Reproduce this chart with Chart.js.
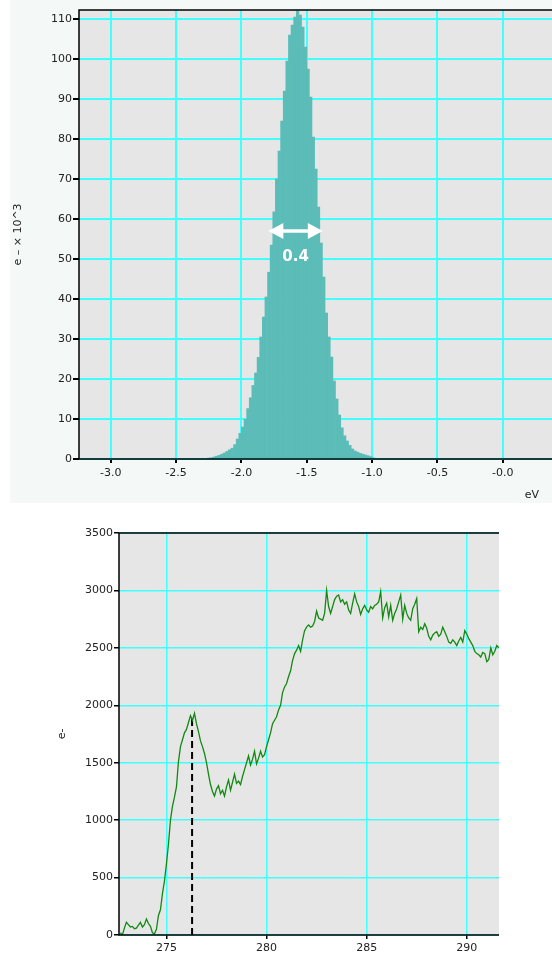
<!DOCTYPE html>
<html>
<head>
<meta charset="utf-8">
<script src="https://cdn.jsdelivr.net/npm/chart.js@4.4.1/dist/chart.umd.min.js"></script>
<style>
  html, body { margin: 0; padding: 0; background: #fff; overflow: hidden; }
  #panelTop { position: absolute; left: 10px; top: 0; width: 542px; height: 503px; background: #F4F8F6; }
  #histChart { position: absolute; left: 0; top: 0; }
  #spectrumChart { position: absolute; left: 0; top: 503px; }
</style>
</head>
<body>
<div id="panelTop"></div>
<canvas id="histChart" width="552" height="503"></canvas>
<canvas id="spectrumChart" width="552" height="450"></canvas>
<script>
// top: energy distribution histogram (e- x 10^3 per bin)
var binCenters = [
  -2.25, -2.23, -2.21, -2.19, -2.17, -2.15, -2.13, -2.11, -2.09, -2.07,
  -2.05, -2.03, -2.01, -1.99, -1.97, -1.95, -1.93, -1.91, -1.89, -1.87,
  -1.85, -1.83, -1.81, -1.79, -1.77, -1.75, -1.73, -1.71, -1.69, -1.67,
  -1.65, -1.63, -1.61, -1.59, -1.57, -1.55, -1.53, -1.51, -1.49, -1.47,
  -1.45, -1.43, -1.41, -1.39, -1.37, -1.35, -1.33, -1.31, -1.29, -1.27,
  -1.25, -1.23, -1.21, -1.19, -1.17, -1.15, -1.13, -1.11, -1.09, -1.07,
  -1.05, -1.03, -1.01, -0.99
];
var binCounts = [
  0.2, 0.3, 0.5, 0.7, 0.9, 1.2, 1.5, 1.9, 2.3, 2.7,
  3.6, 5.0, 6.4, 8.0, 9.9, 12.6, 15.3, 18.4, 21.5, 25.4,
  30.5, 35.5, 40.5, 46.7, 53.5, 61.8, 70, 77, 84.5, 92,
  99.5, 106, 108.5, 110.5, 112, 111, 108, 103, 97.5, 90.5,
  80.5, 72.5, 63, 54, 45.5, 36.5, 30.5, 25.5, 19.5, 15,
  11, 7.8, 5.8, 4.5, 3.4, 2.5, 2.0, 1.7, 1.4, 1.2,
  1.0, 0.8, 0.6, 0.3
];
var histTicksX = [-3.0, -2.5, -2.0, -1.5, -1.0, -0.5, 0.0];
var histTickLabelsX = ['-3.0', '-2.5', '-2.0', '-1.5', '-1.0', '-0.5', '-0.0'];
var histTicksY = [0, 10, 20, 30, 40, 50, 60, 70, 80, 90, 100, 110];
// width marker on the peak
var widthFrom = -1.794;
var widthTo = -1.377;
var widthLevel = 57;
var widthLabel = '0.4';

// bottom: absorption spectrum (e-)
var energies = [
  272.7, 272.8, 272.9,
  273.0, 273.1, 273.2, 273.3, 273.4, 273.5, 273.6, 273.7, 273.8, 273.9,
  274.0, 274.1, 274.2, 274.3, 274.4, 274.5, 274.6, 274.7, 274.8, 274.9,
  275.0, 275.1, 275.2, 275.3, 275.4, 275.5, 275.6, 275.7, 275.8, 275.9,
  276.0, 276.1, 276.2, 276.3, 276.4, 276.5, 276.6, 276.7, 276.8, 276.9,
  277.0, 277.1, 277.2, 277.3, 277.4, 277.5, 277.6, 277.7, 277.8, 277.9,
  278.0, 278.1, 278.2, 278.3, 278.4, 278.5, 278.6, 278.7, 278.8, 278.9,
  279.0, 279.1, 279.2, 279.3, 279.4, 279.5, 279.6, 279.7, 279.8, 279.9,
  280.0, 280.1, 280.2, 280.3, 280.4, 280.5, 280.6, 280.7, 280.8, 280.9,
  281.0, 281.1, 281.2, 281.3, 281.4, 281.5, 281.6, 281.7, 281.8, 281.9,
  282.0, 282.1, 282.2, 282.3, 282.4, 282.5, 282.6, 282.7, 282.8, 282.9,
  283.0, 283.1, 283.2, 283.3, 283.4, 283.5, 283.6, 283.7, 283.8, 283.9,
  284.0, 284.1, 284.2, 284.3, 284.4, 284.5, 284.6, 284.7, 284.8, 284.9,
  285.0, 285.1, 285.2, 285.3, 285.4, 285.5, 285.6, 285.7, 285.8, 285.9,
  286.0, 286.1, 286.2, 286.3, 286.4, 286.5, 286.6, 286.7, 286.8, 286.9,
  287.0, 287.1, 287.2, 287.3, 287.4, 287.5, 287.6, 287.7, 287.8, 287.9,
  288.0, 288.1, 288.2, 288.3, 288.4, 288.5, 288.6, 288.7, 288.8, 288.9,
  289.0, 289.1, 289.2, 289.3, 289.4, 289.5, 289.6, 289.7, 289.8, 289.9,
  290.0, 290.1, 290.2, 290.3, 290.4, 290.5, 290.6, 290.7, 290.8, 290.9,
  291.0, 291.1, 291.2, 291.3, 291.4, 291.5, 291.6
];
var electrons = [
  20, 0, 60,
  110, 90, 70, 75, 55, 60, 85, 110, 70, 90,
  140, 100, 75, 20, 10, 50, 170, 220, 360, 470,
  620, 790, 1000, 1120, 1200, 1290, 1510, 1640, 1700, 1760,
  1790, 1850, 1910, 1870, 1930, 1840, 1770, 1690, 1640, 1580,
  1500, 1400, 1310, 1250, 1210, 1270, 1300, 1230, 1260, 1210,
  1290, 1350, 1260, 1330, 1400, 1320, 1340, 1310, 1380, 1440,
  1500, 1560, 1480, 1530, 1600, 1490, 1540, 1600, 1550, 1570,
  1640, 1700, 1760, 1840, 1870, 1900, 1960, 2000, 2110, 2160,
  2190, 2250, 2300, 2390, 2450, 2480, 2520, 2470, 2570, 2650,
  2680, 2700, 2680, 2690, 2730, 2820, 2760, 2750, 2740, 2800,
  3000, 2860, 2800, 2860, 2920, 2950, 2960, 2900, 2920, 2880,
  2900, 2830, 2800, 2890, 2970, 2900, 2860, 2790, 2840, 2870,
  2830, 2810, 2860, 2840, 2870, 2880, 2900, 2990, 2760, 2850,
  2890, 2770, 2870, 2740, 2800, 2840, 2900, 2960, 2750, 2870,
  2800, 2760, 2740, 2840, 2880, 2930, 2640, 2680, 2660, 2710,
  2670, 2600, 2570, 2610, 2630, 2640, 2600, 2620, 2680, 2640,
  2600, 2550, 2540, 2570, 2550, 2520, 2560, 2590, 2550, 2650,
  2620, 2580, 2550, 2520, 2470, 2450, 2440, 2420, 2460, 2450,
  2380, 2400, 2500, 2440, 2470, 2520, 2500
];
var spectrumTicksX = [275, 280, 285, 290];
var spectrumTicksY = [0, 500, 1000, 1500, 2000, 2500, 3000, 3500];
var edgeEnergy = 276.28;
var edgeTop = 1880;

Chart.defaults.font.family = 'DejaVu Sans';
Chart.defaults.font.size = 11;
Chart.defaults.color = '#222';
Chart.defaults.animation = false;

var cyan = '#40FFFF';

// grey plot area + black frame on top, left and bottom
var framePlugin = {
  id: 'frame',
  beforeDraw: function (chart) {
    var a = chart.chartArea, ctx = chart.ctx;
    ctx.save();
    ctx.fillStyle = '#E6E6E6';
    ctx.fillRect(a.left, a.top, a.right - a.left, a.bottom - a.top);
    ctx.restore();
  },
  afterDatasetsDraw: function (chart) {
    var a = chart.chartArea, ctx = chart.ctx;
    ctx.save();
    ctx.strokeStyle = '#000';
    ctx.lineWidth = 1.5;
    ctx.beginPath();
    ctx.moveTo(a.right, a.top);
    ctx.lineTo(a.left, a.top);
    ctx.lineTo(a.left, a.bottom);
    ctx.lineTo(a.right, a.bottom);
    ctx.stroke();
    ctx.restore();
  }
};

var widthArrow = {
  id: 'widthArrow',
  afterDatasetsDraw: function (chart) {
    var ctx = chart.ctx, x = chart.scales.x, y = chart.scales.y;
    var x1 = x.getPixelForValue(widthFrom), x2 = x.getPixelForValue(widthTo);
    var yy = y.getPixelForValue(widthLevel);
    ctx.save();
    ctx.strokeStyle = '#fff';
    ctx.fillStyle = '#fff';
    ctx.lineWidth = 3.5;
    ctx.beginPath();
    ctx.moveTo(x1 + 10, yy);
    ctx.lineTo(x2 - 10, yy);
    ctx.stroke();
    ctx.beginPath();
    ctx.moveTo(x1, yy); ctx.lineTo(x1 + 15, yy - 8); ctx.lineTo(x1 + 15, yy + 8); ctx.closePath();
    ctx.moveTo(x2, yy); ctx.lineTo(x2 - 15, yy - 8); ctx.lineTo(x2 - 15, yy + 8); ctx.closePath();
    ctx.fill();
    ctx.font = 'bold 15px "DejaVu Sans"';
    ctx.textAlign = 'center';
    ctx.textBaseline = 'middle';
    ctx.fillText(widthLabel, (x1 + x2) / 2, yy + 26);
    // unit label under the x axis
    ctx.font = '11px "DejaVu Sans"';
    ctx.fillStyle = '#222';
    ctx.fillText('eV', chart.width - 20, chart.chartArea.bottom + 36);
    ctx.restore();
  }
};

function plainLabel(v) { return String(v); }

new Chart(document.getElementById('histChart'), {
  type: 'bar',
  data: {
    datasets: [{
      data: binCenters.map(function (c, i) { return { x: c, y: binCounts[i] }; }),
      backgroundColor: '#5BBCB8',
      borderWidth: 0,
      barPercentage: 1,
      categoryPercentage: 1
    }]
  },
  options: {
    responsive: false,
    layout: { padding: { top: 10, right: 0, left: 0, bottom: 0 } },
    plugins: { legend: { display: false }, tooltip: { enabled: false } },
    scales: {
      x: {
        type: 'linear',
        min: -3.243,
        max: 0.377,
        offset: false,
        afterBuildTicks: function (s) { s.ticks = histTicksX.map(function (v) { return { value: v }; }); },
        afterFit: function (s) { s.height = 44; },
        border: { display: false },
        grid: { color: cyan, lineWidth: 2, offset: false, tickColor: '#000', tickLength: 4 },
        ticks: {
          padding: 4, maxRotation: 0, autoSkip: false,
          callback: function (v, i) { return histTickLabelsX[i]; }
        }
      },
      y: {
        min: 0,
        max: 112.25,
        afterBuildTicks: function (s) { s.ticks = histTicksY.map(function (v) { return { value: v }; }); },
        afterFit: function (s) { s.width = 79; },
        border: { display: false },
        grid: { color: cyan, lineWidth: 2, tickColor: '#000', tickLength: 6 },
        ticks: { padding: 1, callback: plainLabel },
        title: { display: true, text: 'e – × 10^3', padding: { top: 12, bottom: 0 } }
      }
    }
  },
  plugins: [framePlugin, widthArrow]
});

new Chart(document.getElementById('spectrumChart'), {
  type: 'line',
  data: {
    datasets: [{
      data: energies.map(function (e, i) { return { x: e, y: electrons[i] }; }),
      borderColor: '#108A10',
      borderWidth: 1.3,
      pointRadius: 0,
      tension: 0
    }, {
      data: [{ x: edgeEnergy, y: 0 }, { x: edgeEnergy, y: edgeTop }],
      borderColor: '#000',
      borderWidth: 2,
      borderDash: [7, 4],
      pointRadius: 0
    }]
  },
  options: {
    responsive: false,
    layout: { padding: { top: 30, right: 53, left: 0, bottom: 0 } },
    plugins: { legend: { display: false }, tooltip: { enabled: false } },
    scales: {
      x: {
        type: 'linear',
        min: 272.63,
        max: 291.61,
        afterBuildTicks: function (s) { s.ticks = spectrumTicksX.map(function (v) { return { value: v }; }); },
        afterFit: function (s) { s.height = 18; },
        border: { display: false },
        grid: { color: cyan, lineWidth: 1.5, tickColor: '#000', tickLength: 4 },
        ticks: { padding: 3, maxRotation: 0, autoSkip: false, callback: plainLabel }
      },
      y: {
        min: 0,
        max: 3500,
        afterBuildTicks: function (s) { s.ticks = spectrumTicksY.map(function (v) { return { value: v }; }); },
        afterFit: function (s) { s.width = 119; },
        border: { display: false },
        grid: { color: cyan, lineWidth: 1.5, tickColor: '#000', tickLength: 5 },
        ticks: { padding: 1, callback: plainLabel },
        title: { display: true, text: 'e-', padding: { top: 56, bottom: 0 } }
      }
    }
  },
  plugins: [framePlugin]
});
</script>
</body>
</html>
